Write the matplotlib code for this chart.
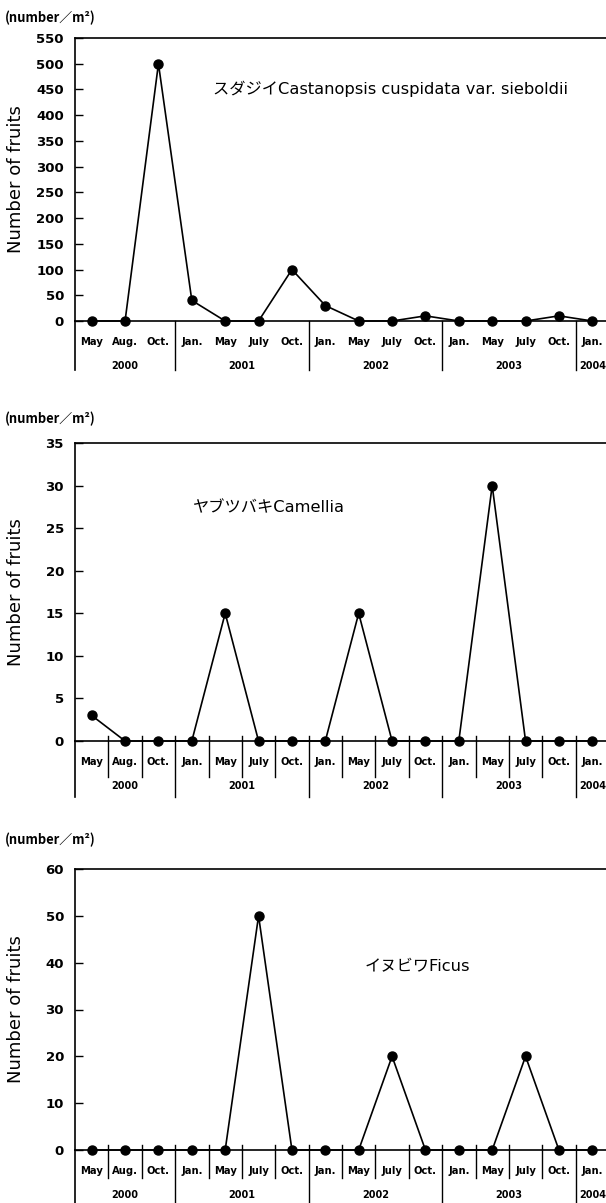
"""
Fruit counts per census, three tree species, 2000-2004.
"""
import matplotlib
matplotlib.use("Agg")
import matplotlib.pyplot as plt
import matplotlib.transforms as mtransforms

plt.rcParams['font.family'] = ['DejaVu Sans', 'Noto Sans CJK JP']

# census months and years
months = ['May', 'Aug.', 'Oct.', 'Jan.', 'May', 'July', 'Oct.', 'Jan.',
          'May', 'July', 'Oct.', 'Jan.', 'May', 'July', 'Oct.', 'Jan.']
years = ['2000', '2001', '2002', '2003', '2004']
months_per_year = [3, 4, 4, 4, 1]

# number of fruits per m2
shii = [0, 0, 500, 40, 0, 0, 100, 30, 0, 0, 10, 0, 0, 0, 10, 0]
camellia = [3, 0, 0, 0, 15, 0, 0, 0, 15, 0, 0, 0, 30, 0, 0, 0]
ficus = [0, 0, 0, 0, 0, 50, 0, 0, 0, 20, 0, 0, 0, 20, 0, 0]

labels = ['スダジイCastanopsis cuspidata var. sieboldii',
          'ヤブツバキCamellia',
          'イヌビワFicus']

W, H = 606, 1203
fig = plt.figure(figsize=(W / 100, H / 100), dpi=100)


def px_axes(left, top, right, bottom):
    return fig.add_axes([left / W, 1 - bottom / H, (right - left) / W, (bottom - top) / H])


def draw_panel(top, zero, ymax, step, values, label, label_xy,
               month_seps, month_sep_len, year_sep_len, unit_y):
    ax = px_axes(75, top, 609, zero)
    n = len(values)
    x = list(range(n))
    ax.plot(x, values, color='black', lw=1.2, marker='o', ms=6.5, clip_on=False, zorder=3)
    ax.set_xlim(-0.5, n - 0.5)
    ax.set_ylim(0, ymax)
    ax.set_yticks(range(0, ymax + 1, step))
    ax.set_xticks([])
    ax.tick_params(axis='y', direction='in', length=6, width=1, labelsize=9.5, pad=8)
    for t in ax.get_yticklabels():
        t.set_fontweight('bold')
    for s in ax.spines.values():
        s.set_linewidth(1.2)
    ax.set_ylabel('Number of fruits', fontsize=13, labelpad=8)
    ax.yaxis.set_label_coords(-50 / 534, 0.5)

    h = zero - top
    tr = mtransforms.blended_transform_factory(ax.transData, ax.transAxes)
    # left spine extension
    ax.plot([-0.5, -0.5], [0, -year_sep_len / h], transform=tr, color='black',
            lw=1.2, clip_on=False)
    for i, m in enumerate(months):
        ax.text(i, -21 / h, m, transform=tr, ha='center', va='center',
                fontsize=7.2, fontweight='bold')
    bounds = []
    pos = 0
    for cnt in months_per_year:
        bounds.append((pos, pos + cnt))
        pos += cnt
    year_edges = [b[0] for b in bounds[1:]]
    if month_seps:
        for i in range(1, n):
            if i not in year_edges:
                ax.plot([i - 0.5, i - 0.5], [5 / h, -month_sep_len / h], transform=tr,
                        color='black', lw=1, clip_on=False)
    for e in year_edges:
        ax.plot([e - 0.5, e - 0.5], [5 / h if month_seps else 0, -year_sep_len / h],
                transform=tr, color='black', lw=1, clip_on=False)
    for (a, b), yr in zip(bounds, years):
        ax.text((a + b - 1) / 2, -45 / h, yr, transform=tr, ha='center', va='center',
                fontsize=7, fontweight='bold')

    fig.text(5 / W, 1 - unit_y / H, '(number／m²)', fontsize=9.3, fontweight='bold',
             va='center', ha='left', family=['Noto Sans CJK JP', 'DejaVu Sans'])
    fig.text(label_xy[0] / W, 1 - label_xy[1] / H, label, fontsize=11.7,
             va='center', ha='left')
    return ax


draw_panel(38, 321, 550, 50, shii, labels[0], (213, 89), False, 0, 49, 18)
draw_panel(443, 741, 35, 5, camellia, labels[1], (193, 508), True, 36, 56, 419)
draw_panel(869, 1150, 60, 10, ficus, labels[2], (365, 967), True, 28, 55, 840)

fig.savefig('out.png', dpi=100)
